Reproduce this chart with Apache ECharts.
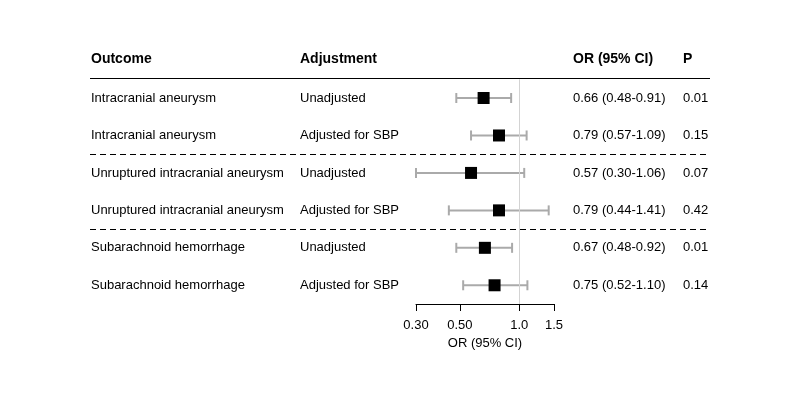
<!DOCTYPE html>
<html>
<head>
<meta charset="utf-8">
<script src="https://cdn.jsdelivr.net/npm/echarts@6/dist/echarts.min.js"></script>
<style>
  html, body { margin: 0; padding: 0; background: #fff; }
  #main { width: 800px; height: 400px; }
</style>
</head>
<body>
<div id="main"></div>
<script>
// 表格数据
var outcomes = ['Intracranial aneurysm', 'Intracranial aneurysm',
    'Unruptured intracranial aneurysm', 'Unruptured intracranial aneurysm',
    'Subarachnoid hemorrhage', 'Subarachnoid hemorrhage'];
var adjustments = ['Unadjusted', 'Adjusted for SBP', 'Unadjusted', 'Adjusted for SBP',
    'Unadjusted', 'Adjusted for SBP'];
var orValues = [0.66, 0.79, 0.57, 0.79, 0.67, 0.75];
var lowerCI = [0.48, 0.57, 0.30, 0.44, 0.48, 0.52];
var upperCI = [0.91, 1.09, 1.06, 1.41, 0.92, 1.10];
var orText = ['0.66 (0.48-0.91)', '0.79 (0.57-1.09)', '0.57 (0.30-1.06)',
    '0.79 (0.44-1.41)', '0.67 (0.48-0.92)', '0.75 (0.52-1.10)'];
var pValues = ['0.01', '0.15', '0.07', '0.42', '0.01', '0.14'];
var headers = ['Outcome', 'Adjustment', 'OR (95% CI)', 'P'];
var tickValues = [0.30, 0.50, 1.0, 1.5];
var tickLabels = ['0.30', '0.50', '1.0', '1.5'];
var groupBreaks = [1.5, 3.5]; // 分组虚线位置

var FONT = '"Liberation Sans", Arial, sans-serif';

// x 轴用对数刻度 (ln)
var lnTicks = tickValues.map(function (v) { return Math.log(v); });

var ciData = orValues.map(function (v, i) {
    return [Math.log(lowerCI[i]), Math.log(upperCI[i]), i];
});
var pointData = orValues.map(function (v, i) {
    return [Math.log(v), i];
});

var myChart = echarts.init(document.getElementById('main'));

var option = {
    animation: false,
    grid: { left: 416, right: 246, top: 79.3, bottom: 96 },
    xAxis: {
        type: 'value',
        min: Math.log(0.30),
        max: Math.log(1.5),
        splitLine: { show: false },
        axisLine: { show: true, onZero: false, lineStyle: { color: '#000', width: 1 } },
        axisTick: { show: true, length: 7, customValues: lnTicks, lineStyle: { color: '#000' } },
        axisLabel: {
            customValues: lnTicks,
            margin: 15,
            fontSize: 13,
            fontFamily: FONT,
            color: '#000',
            formatter: function (val) {
                for (var i = 0; i < lnTicks.length; i++) {
                    if (Math.abs(lnTicks[i] - val) < 1e-6) return tickLabels[i];
                }
                return '';
            }
        },
        name: 'OR (95% CI)',
        nameLocation: 'middle',
        nameGap: 31,
        nameTextStyle: { fontSize: 13, fontFamily: FONT, color: '#000' }
    },
    yAxis: {
        type: 'value',
        min: -0.5,
        max: 5.5,
        inverse: true,
        show: false
    },
    series: [
        {
            type: 'custom',
            data: ciData,
            renderItem: function (params, api) {
                var p1 = api.coord([api.value(0), api.value(2)]);
                var p2 = api.coord([api.value(1), api.value(2)]);
                var h = 5;
                var style = { stroke: '#aaaaaa', lineWidth: 2 };
                return {
                    type: 'group',
                    children: [
                        { type: 'line', shape: { x1: p1[0], y1: p1[1], x2: p2[0], y2: p2[1] }, style: style },
                        { type: 'line', shape: { x1: p1[0], y1: p1[1] - h, x2: p1[0], y2: p1[1] + h }, style: style },
                        { type: 'line', shape: { x1: p2[0], y1: p2[1] - h, x2: p2[0], y2: p2[1] + h }, style: style }
                    ]
                };
            },
            z: 2
        },
        {
            type: 'scatter',
            data: pointData,
            symbol: 'rect',
            symbolSize: 12,
            itemStyle: { color: '#000', opacity: 1 },
            z: 3,
            markLine: {
                silent: true,
                symbol: 'none',
                label: { show: false },
                lineStyle: { color: '#d3d3d3', width: 1, type: 'solid' },
                data: [{ xAxis: 0 }]
            }
        }
    ]
};

myChart.setOption(option);

// 表格文字和分隔线
var colX = [91, 300, 573, 683];
var leftX = 90, rightX = 710;
var graphics = [];

function rowY(i) {
    return myChart.convertToPixel({ yAxisIndex: 0 }, i);
}

headers.forEach(function (h, k) {
    graphics.push({
        type: 'text', x: colX[k], y: 59,
        style: { text: h, fontSize: 14, fontWeight: 'bold', fontFamily: FONT,
            fill: '#000', verticalAlign: 'middle' }
    });
});

graphics.push({
    type: 'line', shape: { x1: leftX, y1: 78.5, x2: rightX, y2: 78.5 },
    style: { stroke: '#000', lineWidth: 1 }
});

for (var i = 0; i < outcomes.length; i++) {
    var y = rowY(i);
    [outcomes[i], adjustments[i], orText[i], pValues[i]].forEach(function (t, k) {
        graphics.push({
            type: 'text', x: colX[k], y: y,
            style: { text: t, fontSize: 13, fontFamily: FONT, fill: '#000', verticalAlign: 'middle' }
        });
    });
}

groupBreaks.forEach(function (b) {
    var y = Math.round(rowY(b)) + 0.5;
    graphics.push({
        type: 'line', shape: { x1: leftX, y1: y, x2: rightX, y2: y },
        style: { stroke: '#000', lineWidth: 1, lineDash: [6, 4] },
        z: 10
    });
});

myChart.setOption({ graphic: graphics });
</script>
</body>
</html>
